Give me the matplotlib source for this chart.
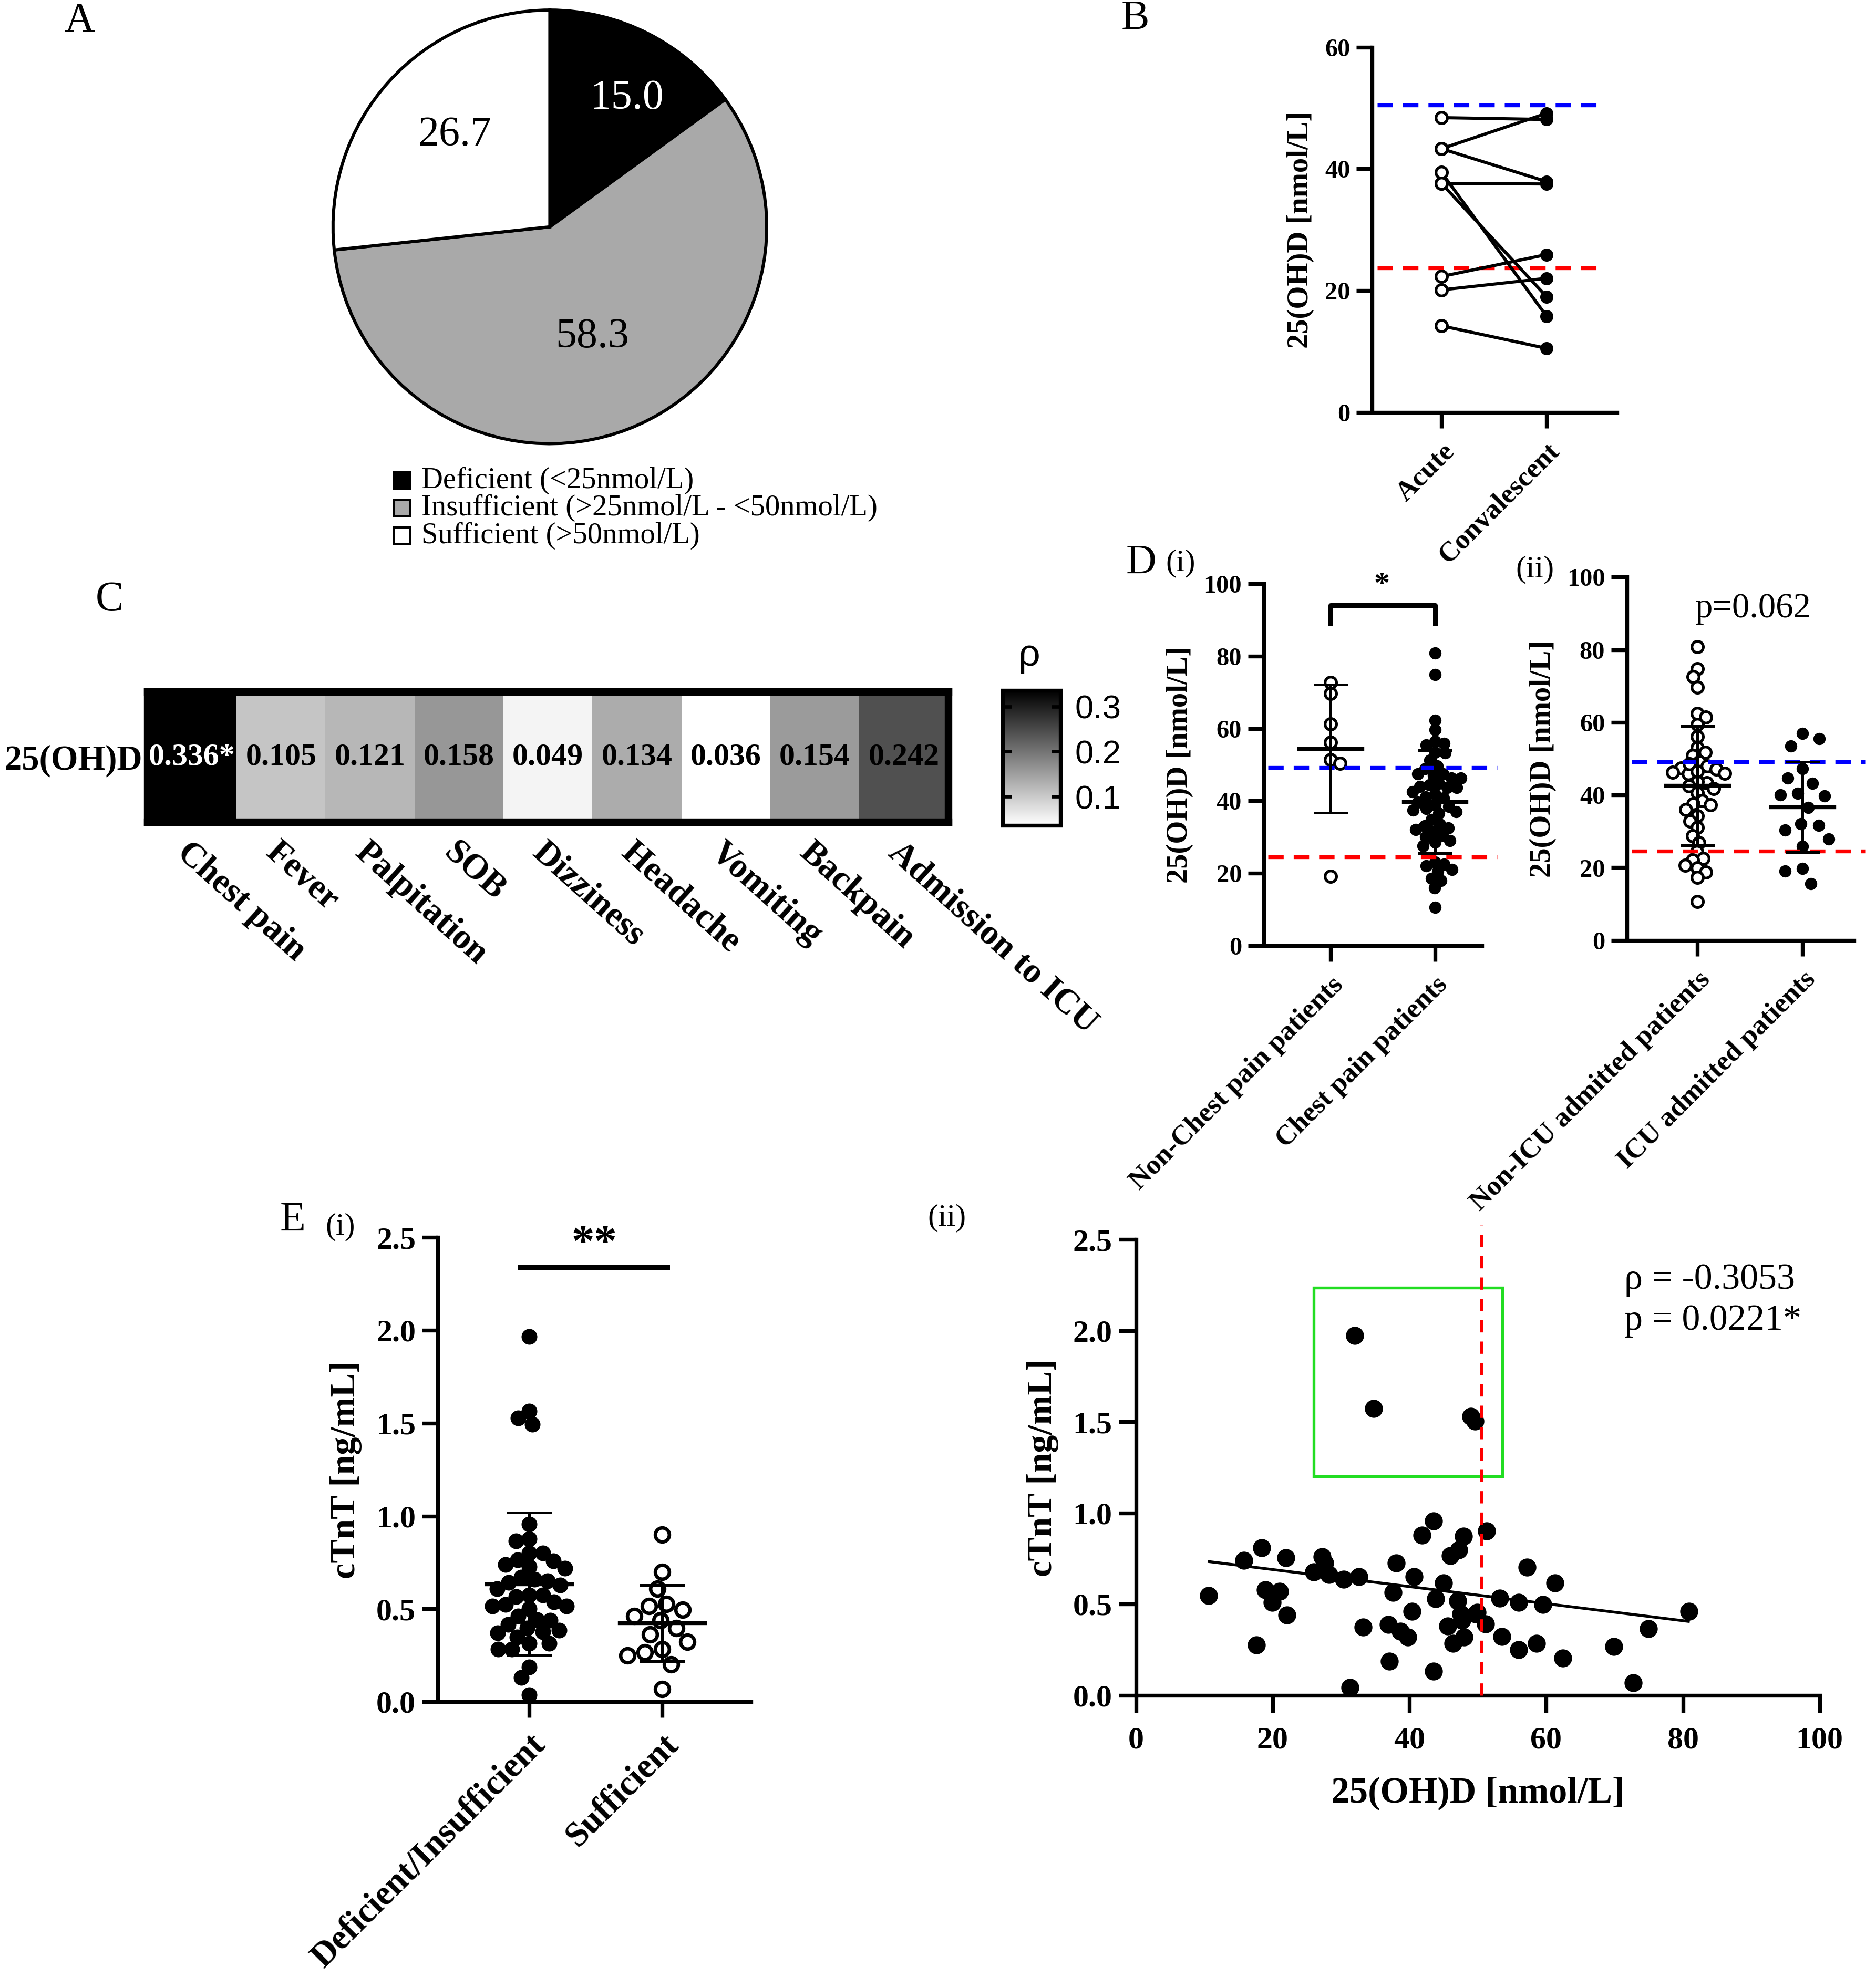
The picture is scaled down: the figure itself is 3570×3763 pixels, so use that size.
import numpy as np
import matplotlib
matplotlib.use("Agg")
import matplotlib.pyplot as plt
from matplotlib.patches import Rectangle

plt.rcParams['font.family'] = ['Liberation Serif', 'DejaVu Serif']

# ---------------- data ----------------
# A: vitamin D status (%)
pie_labels = ['Deficient (<25nmol/L)', 'Insufficient (>25nmol/L - <50nmol/L)', 'Sufficient (>50nmol/L)']
pie_values = [15.0, 58.3, 26.7]

# B: paired acute / convalescent 25(OH)D
b_groups = ['Acute', 'Convalescent']
b_acute = [48.4, 43.3, 43.3, 39.4, 37.6, 37.6, 22.3, 20.1, 14.2]
b_conv = [48.1, 49.1, 37.9, 15.8, 37.5, 19.0, 25.9, 22.0, 10.5]
b_lines = [50.5, 23.7]

# C: correlation of 25(OH)D with symptoms
c_symptoms = ['Chest pain', 'Fever', 'Palpitation', 'SOB', 'Dizziness', 'Headache',
              'Vomiting', 'Backpain', 'Admission to ICU']
c_rho = [0.336, 0.105, 0.121, 0.158, 0.049, 0.134, 0.036, 0.154, 0.242]
c_marks = ['*', '', '', '', '', '', '', '', '']
c_ticks = [0.1, 0.2, 0.3]

# D(i): chest pain
d1_groups = ['Non-Chest pain patients', 'Chest pain patients']
d1_nonchest = [69.7, 72.7, 61.2, 56.2, 51.4, 50.3, 19.2]
d1_chest = [80.8, 74.9, 62.3, 59.6, 56.5, 55.9, 55.5, 53.3, 53.4, 51.2,
            49.6, 48.9, 47.4, 46.3, 46.3, 47.0, 44.4, 44.8, 43.7, 43.7,
            41.8, 40.7, 42.5, 41.0, 39.6, 38.9, 37.8, 37.0, 37.4, 38.5,
            36.5, 34.8, 33.5, 32.5, 32.0, 31.5, 30.5, 33.0, 30.0, 29.0,
            28.5, 27.5, 23.0, 22.5, 22.0, 21.0, 20.5, 18.5, 18.0, 16.0,
            10.5, 47.5, 44.0]
d1_lines = [49.2, 24.5]

# D(ii): ICU admission
d2_groups = ['Non-ICU admitted patients', 'ICU admitted patients']
d2_nonicu = [80.8, 74.8, 72.5, 69.7, 62.4, 61.4, 59.4, 56.1, 53.1, 51.7,
             50.9, 49.1, 48.0, 47.4, 47.1, 46.3, 45.9, 45.8, 43.4, 43.7,
             42.5, 41.7, 40.6, 38.4, 37.3, 37.6, 36.0, 34.3, 32.8, 31.0,
             28.8, 26.9, 24.4, 22.5, 22.1, 20.7, 19.9, 18.8, 17.3, 10.7,
             48.5, 46.5]
d2_icu = [57.0, 55.5, 53.4, 47.2, 44.6, 43.2, 40.4, 39.7, 40.0, 36.5,
          32.1, 31.7, 30.3, 27.8, 25.8, 19.8, 19.0, 15.6]
d2_lines = [49.2, 24.5]
d_yticks = [0, 20, 40, 60, 80, 100]

# E(i): cTnT by vitamin D status
e1_groups = ['Deficient/Insufficient', 'Sufficient']
e1_low = [1.967, 1.565, 1.527, 1.495, 0.956, 0.876, 0.866, 0.80, 0.80, 0.765,
          0.758, 0.727, 0.739, 0.72, 0.67, 0.651, 0.643, 0.628, 0.609, 0.575,
          0.575, 0.567, 0.537, 0.524, 0.514, 0.514, 0.461, 0.438, 0.442, 0.415,
          0.396, 0.385, 0.377, 0.371, 0.347, 0.314, 0.314, 0.282, 0.282, 0.187,
          0.13, 0.038, 0.66, 0.50]
e1_suff = [0.899, 0.70, 0.609, 0.514, 0.527, 0.495, 0.461, 0.438, 0.396, 0.362,
           0.324, 0.282, 0.267, 0.248, 0.20, 0.067]
e_yticks = [0.0, 0.5, 1.0, 1.5, 2.0, 2.5]

# E(ii): cTnT vs 25(OH)D
e2_vitd = [32.0, 34.8, 49.0, 49.6, 43.5, 41.8, 47.9, 51.3, 18.4, 47.2,
           46.0, 15.8, 21.9, 27.2, 38.1, 27.6, 57.2, 26.0, 28.2, 40.7,
           30.4, 32.6, 61.3, 45.0, 10.6, 37.6, 18.9, 21.0, 19.9, 43.8,
           47.1, 53.2, 56.0, 59.5, 40.4, 22.1, 47.5, 49.7, 47.7, 80.9,
           45.6, 33.2, 36.9, 51.1, 38.7, 75.0, 39.8, 48.0, 53.5, 46.4,
           17.6, 58.6, 69.9, 56.0, 37.1, 62.4, 43.5, 72.7, 31.3, 49.9]
e2_ctnt = [1.974, 1.572, 1.530, 1.504, 0.956, 0.878, 0.872, 0.900, 0.808, 0.797,
           0.766, 0.741, 0.755, 0.761, 0.724, 0.724, 0.702, 0.677, 0.663, 0.649,
           0.635, 0.649, 0.615, 0.615, 0.548, 0.565, 0.579, 0.570, 0.509, 0.528,
           0.517, 0.531, 0.509, 0.498, 0.461, 0.439, 0.445, 0.445, 0.411, 0.459,
           0.378, 0.375, 0.389, 0.391, 0.350, 0.364, 0.319, 0.319, 0.322, 0.285,
           0.277, 0.285, 0.268, 0.249, 0.187, 0.204, 0.131, 0.067, 0.042, 0.453]
e2_fit_x = [10.7, 80.8]
e2_fit_y = [0.733, 0.405]
e2_cut = 50.5
e2_xticks = [0, 20, 40, 60, 80, 100]

# ---------------- figure ----------------
W, H = 1487.5, 1568.0
fig = plt.figure(figsize=(W / 100, H / 100), dpi=240)


def box(left, top, right, bottom):
    return [left / W, 1 - bottom / H, (right - left) / W, (bottom - top) / H]


def fxy(x, y):
    return x / W, 1 - y / H


def style(ax, lw=2.2, tlen=9):
    for s in ('top', 'right'):
        ax.spines[s].set_visible(False)
    for s in ('left', 'bottom'):
        ax.spines[s].set_linewidth(lw)
    ax.tick_params(direction='out', length=tlen, width=lw)


def swarm(ax, values, center, spacing_pt):
    d = spacing_pt * fig.dpi / 72
    pts = ax.transData.transform(np.column_stack([np.full(len(values), center), values]))
    ys = pts[:, 1]
    xs = np.zeros(len(values))
    placed = []
    for i in np.argsort(-ys):
        y = ys[i]
        blocked = []
        for px, py in placed:
            dy = abs(py - y)
            if dy < d:
                w = np.sqrt(d * d - dy * dy)
                blocked.append((px - w, px + w))
        cands = [0.0] + [b for iv in blocked for b in iv]
        cands.sort(key=lambda c: (abs(round(c, 6)), -c * (len(placed) % 2 * 2 - 1)))
        for c in cands:
            if all(not (lo + 1e-6 < c < hi - 1e-6) for lo, hi in blocked):
                xs[i] = c
                break
        placed.append((xs[i], y))
    back = ax.transData.inverted().transform(np.column_stack([pts[:, 0] + xs, ys]))
    return back[:, 0]


def mean_sd(ax, values, center, half_mean=0.3, half_cap=0.15):
    m = np.mean(values)
    s = np.std(values, ddof=1)
    ax.plot([center - half_mean, center + half_mean], [m, m], color='black', lw=2.2, zorder=5)
    ax.plot([center, center], [m - s, m + s], color='black', lw=1.5, zorder=5)
    for yv in (m - s, m + s):
        ax.plot([center - half_cap, center + half_cap], [yv, yv], color='black', lw=1.5, zorder=5)


def dots(ax, values, center, filled, ms, mew=1.6, spacing=None):
    xs = swarm(ax, values, center, spacing if spacing else ms * 0.92)
    if filled:
        ax.plot(xs, values, 'o', color='black', ms=ms, ls='none', zorder=3, clip_on=False)
    else:
        ax.plot(xs, values, 'o', mfc='white', mec='black', mew=mew, ms=ms, ls='none',
                zorder=3, clip_on=False)


# ---- A: pie ----
pie_colors = ['black', '#a9a9a9', 'white']
axA = fig.add_axes(box(262, 6, 610, 354))
axA.pie(pie_values, colors=pie_colors, startangle=90, counterclock=False,
        wedgeprops=dict(edgecolor='black', linewidth=1.8))
axA.set_xlim(-1.012, 1.012)
axA.set_ylim(-1.012, 1.012)
label_dist = [0.69, 0.545, 0.61]
label_turn = [-4, 0, -2]
start = 90.0
for v, dist, turn, col in zip(pie_values, label_dist, label_turn, ['white', 'black', 'black']):
    mid = np.deg2rad(start - v * 3.6 / 2 + turn)
    start -= v * 3.6
    axA.text(dist * np.cos(mid), dist * np.sin(mid), f'{v:.1f}', color=col,
             fontsize=24, ha='center', va='center')
for k, (lab, col) in enumerate(zip(pie_labels, pie_colors)):
    yc = 381 + 22 * k
    x0, y0 = fxy(312, yc + 6.5)
    fig.patches.append(Rectangle((x0, y0), 13 / W, 13 / H, transform=fig.transFigure,
                                 facecolor=col, edgecolor='black', lw=1.2))
    fig.text(*fxy(334, yc), lab, fontsize=17, ha='left', va='center')

# ---- B: paired ----
axB = fig.add_axes(box(1088, 37.4, 1282, 327))
axB.set_xlim(-0.66, 1.67)
axB.set_ylim(0, 60)
style(axB)
for a, c in zip(b_acute, b_conv):
    axB.plot([0, 1], [a, c], color='black', lw=1.8, zorder=2)
axB.plot(np.zeros(len(b_acute)), b_acute, 'o', mfc='white', mec='black', mew=1.6, ms=6.5, zorder=3)
axB.plot(np.ones(len(b_conv)), b_conv, 'o', color='black', ms=6.5, zorder=3)
for yv, col in zip(b_lines, ['blue', 'red']):
    axB.plot([-0.61, 1.55], [yv, yv], color=col, lw=2.2, dashes=(4, 2.6), zorder=1)
axB.set_yticks([0, 20, 40, 60], ['0', '20', '40', '60'], fontsize=14.5, fontweight='bold')
axB.set_xticks([0, 1], b_groups, rotation=45, ha='right', va='top', rotation_mode='anchor',
               fontsize=16, fontweight='bold')
axB.tick_params(axis='x', pad=6)
axB.set_ylabel('25(OH)D [nmol/L]', fontsize=17, fontweight='bold', labelpad=6)

# ---- C: heatmap ----
axC = fig.add_axes(box(117, 549, 752, 652))
im = axC.imshow(np.array([c_rho]), cmap='gray_r', vmin=0.036, vmax=0.336, aspect='auto',
                extent=(-0.5, len(c_rho) - 0.5, -0.5, 0.5))
for i, (v, mk) in enumerate(zip(c_rho, c_marks)):
    axC.text(i, 0, f'{v:.3f}{mk}', ha='center', va='center', fontsize=18, fontweight='bold',
             color='white' if v > 0.25 else 'black')
for s in axC.spines.values():
    s.set_linewidth(4.3)
axC.set_yticks([0], ['25(OH)D'], fontsize=20, fontweight='bold')
axC.set_xticks(range(len(c_symptoms)), c_symptoms, rotation=-42, ha='left', va='top',
               rotation_mode='anchor', fontsize=20, fontweight='bold')
axC.tick_params(length=0, pad=3)
axC.tick_params(axis='x', pad=8)

cax = fig.add_axes(box(795, 547.5, 841, 654.5))
cb = fig.colorbar(im, cax=cax, ticks=c_ticks)
cb.outline.set_linewidth(2.2)
cax.tick_params(direction='in', left=True, right=True, length=5, width=2, labelsize=19, pad=8)
for lab in cax.get_yticklabels():
    lab.set_family('Liberation Sans')
fig.text(*fxy(816, 520), 'ρ', fontsize=22, family='Liberation Sans', ha='center', va='center')

# ---- D(i) ----
axD1 = fig.add_axes(box(1002, 463, 1175, 750))
axD1.set_xlim(-0.64, 1.45)
axD1.set_ylim(0, 100)
style(axD1)
dots(axD1, d1_nonchest, 0, False, 6.5)
dots(axD1, d1_chest, 1, True, 6.0, spacing=5.4)
mean_sd(axD1, d1_nonchest, 0)
mean_sd(axD1, d1_chest, 1)
for yv, col in zip(d1_lines, ['blue', 'red']):
    axD1.axhline(yv, xmin=0.02, xmax=1.07, color=col, lw=2.2, dashes=(4, 2.6), zorder=4,
                 clip_on=False)
axD1.plot([0, 0, 1, 1], [88.9, 94.1, 94.1, 88.9], color='black', lw=2.7)
axD1.text(0.49, 99.5, '*', fontsize=18, fontweight='bold', ha='center', va='center')
axD1.set_yticks(d_yticks, [str(t) for t in d_yticks], fontsize=14.5, fontweight='bold')
axD1.set_xticks([0, 1], d1_groups, rotation=45, ha='right', va='top', rotation_mode='anchor',
                fontsize=16, fontweight='bold')
axD1.tick_params(axis='x', pad=6)
axD1.set_ylabel('25(OH)D [nmol/L]', fontsize=17, fontweight='bold', labelpad=6)

# ---- D(ii) ----
axD2 = fig.add_axes(box(1290, 457.7, 1470, 745.8))
axD2.set_xlim(-0.67, 1.49)
axD2.set_ylim(0, 100)
style(axD2)
dots(axD2, d2_nonicu, 0, False, 6.5, spacing=5.3)
dots(axD2, d2_icu, 1, True, 6.0, spacing=10.0)
mean_sd(axD2, d2_nonicu, 0)
mean_sd(axD2, d2_icu, 1)
for yv, col in zip(d2_lines, ['blue', 'red']):
    axD2.axhline(yv, xmin=0.02, xmax=1.05, color=col, lw=2.2, dashes=(4, 2.6), zorder=4,
                 clip_on=False)
axD2.text(0.53, 91.3, 'p=0.062', fontsize=20, ha='center', va='center')
axD2.set_yticks(d_yticks, [str(t) for t in d_yticks], fontsize=14.5, fontweight='bold')
axD2.set_xticks([0, 1], d2_groups, rotation=45, ha='right', va='top', rotation_mode='anchor',
                fontsize=16, fontweight='bold')
axD2.tick_params(axis='x', pad=6)
axD2.set_ylabel('25(OH)D [nmol/L]', fontsize=17, fontweight='bold', labelpad=6)

# ---- E(i) ----
axE1 = fig.add_axes(box(347, 981.5, 595.6, 1349.7))
axE1.set_xlim(-0.69, 1.67)
axE1.set_ylim(0, 2.5)
style(axE1)
dots(axE1, e1_low, 0, True, 8.0, spacing=7.6)
dots(axE1, e1_suff, 1, False, 8.0, mew=2.0, spacing=10.0)
mean_sd(axE1, e1_low, 0, half_mean=0.32, half_cap=0.16)
mean_sd(axE1, e1_suff, 1, half_mean=0.32, half_cap=0.16)
axE1.plot([-0.07, 1.04], [2.34, 2.34], color='black', lw=3.0)
axE1.text(0.49, 2.46, '**', fontsize=26, fontweight='bold', ha='center', va='center')
axE1.set_yticks(e_yticks, [f'{t:.1f}' for t in e_yticks], fontsize=18, fontweight='bold')
axE1.set_xticks([0, 1], e1_groups, rotation=45, ha='right', va='top', rotation_mode='anchor',
                fontsize=20, fontweight='bold')
axE1.tick_params(axis='x', pad=6)
axE1.set_ylabel('cTnT [ng/mL]', fontsize=20.5, fontweight='bold', labelpad=8)

# ---- E(ii) ----
axE2 = fig.add_axes(box(900.7, 983.2, 1442.8, 1344.5))
axE2.set_xlim(0, 100)
axE2.set_ylim(0, 2.5)
style(axE2, tlen=10)
axE2.plot(e2_vitd, e2_ctnt, 'o', color='black', ms=9.3, ls='none', zorder=3, clip_on=False)
axE2.plot(e2_fit_x, e2_fit_y, color='black', lw=1.6, zorder=2)
axE2.plot([e2_cut, e2_cut], [0, 2.58], color='red', lw=2.0, dashes=(3.5, 2.6), zorder=4,
          clip_on=False)
axE2.add_patch(Rectangle((26.0, 1.202), 27.6, 1.035, fill=False, edgecolor='#22dd22',
                         lw=1.6, zorder=2))
axE2.text(71.4, 2.28, 'ρ = -0.3053', fontsize=21, ha='left', va='center')
axE2.text(71.4, 2.055, 'p = 0.0221*', fontsize=21, ha='left', va='center')
axE2.set_yticks(e_yticks, [f'{t:.1f}' for t in e_yticks], fontsize=18, fontweight='bold')
axE2.set_xticks(e2_xticks, [str(t) for t in e2_xticks], fontsize=18, fontweight='bold')
axE2.tick_params(axis='x', pad=8)
axE2.set_ylabel('cTnT [ng/mL]', fontsize=20.5, fontweight='bold', labelpad=8)
axE2.set_xlabel('25(OH)D [nmol/L]', fontsize=21, fontweight='bold', labelpad=12)

# ---- panel letters ----
for txt, x, y, fs in [('A', 63, 17, 24), ('B', 900, 15, 24), ('C', 87, 476, 24),
                      ('D', 905, 447, 24), ('(i)', 936, 447, 18), ('(ii)', 1217, 452, 18),
                      ('E', 232, 968, 24), ('(i)', 270, 973, 18), ('(ii)', 751, 966, 18)]:
    fig.text(*fxy(x, y), txt, fontsize=fs, ha='center', va='center')

fig.savefig('out.png', dpi=240, facecolor='white')
